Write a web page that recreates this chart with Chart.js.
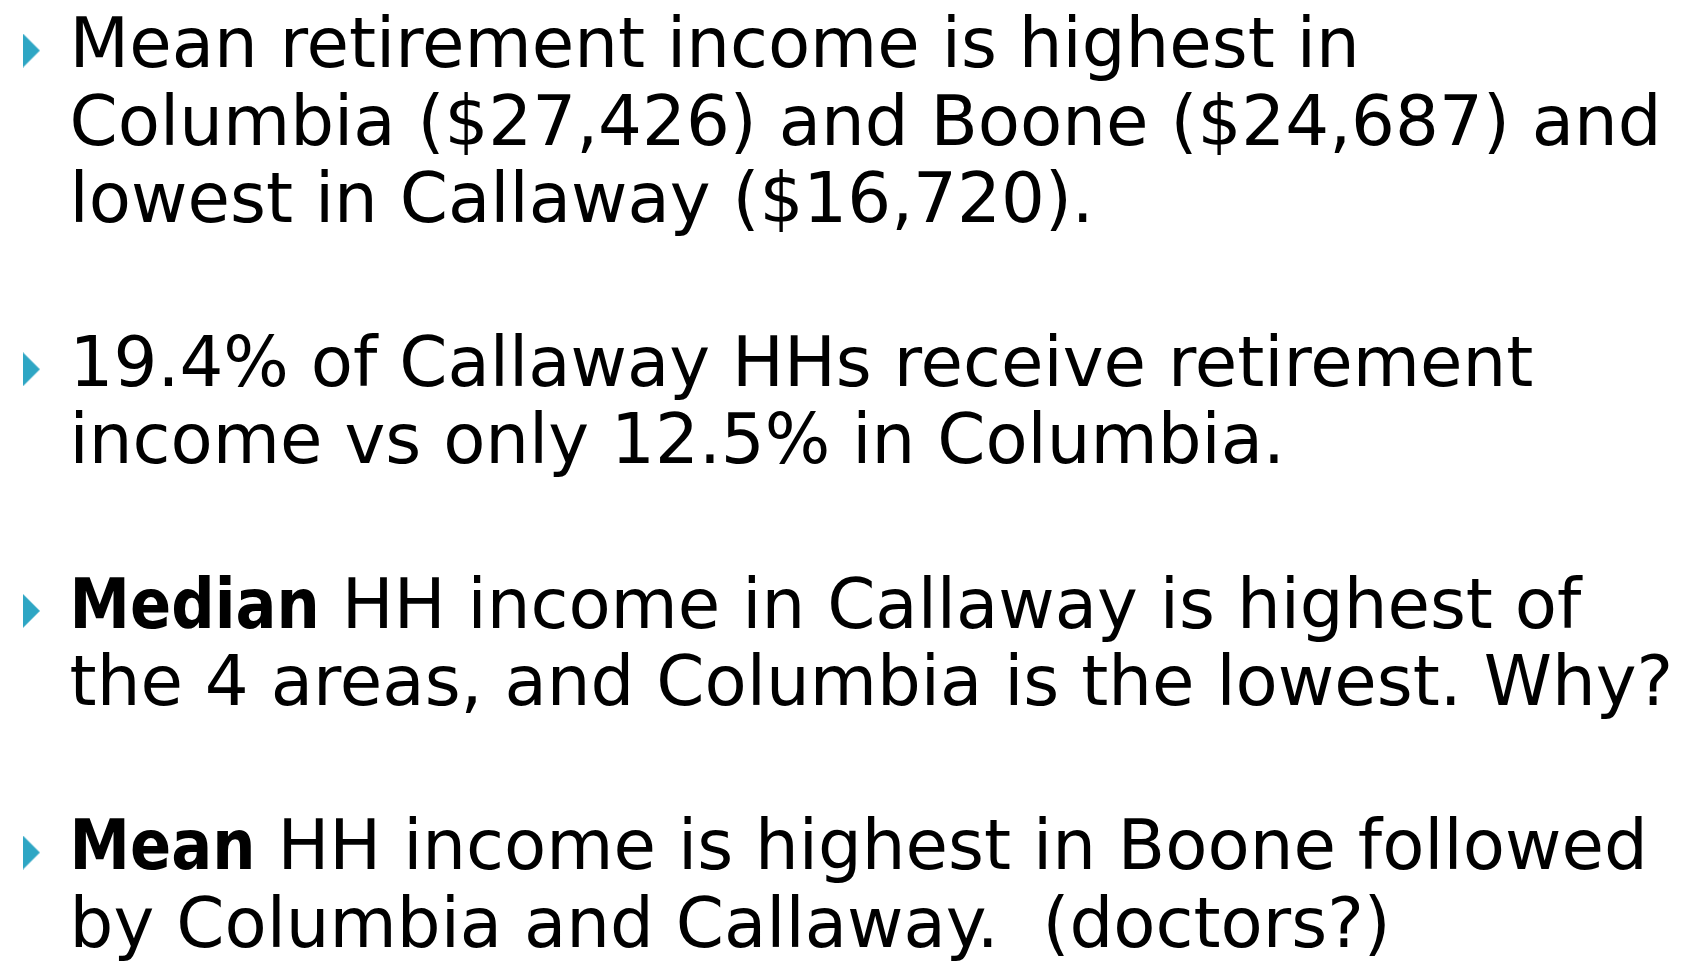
<!DOCTYPE html>
<html>
<head>
<meta charset="utf-8">
<script src="https://cdn.jsdelivr.net/npm/chart.js@4.4.0/dist/chart.umd.min.js"></script>
<style>
  html, body { margin: 0; padding: 0; background: #fff; overflow: hidden; }
  #wrap { width: 1686px; height: 962px; position: relative; }
</style>
</head>
<body>
<div id="wrap"><canvas id="slide"></canvas></div>
<script>
  // one array per bullet, one entry per line, each line = [text, bold] parts
  var bullet1 = [
    [['Mean retirement income is highest in', false]],
    [['Columbia ($27,426) and Boone ($24,687) and', false]],
    [['lowest in Callaway ($16,720).', false]]
  ];
  var bullet2 = [
    [['19.4% of Callaway HHs receive retirement', false]],
    [['income vs only 12.5% in Columbia.', false]]
  ];
  var bullet3 = [
    [['Median', true], [' HH income in Callaway is highest of', false]],
    [['the 4 areas, and Columbia is the lowest. Why?', false]]
  ];
  var bullet4 = [
    [['Mean', true], [' HH income is highest in Boone followed', false]],
    [['by Columbia and Callaway.  (doctors?)', false]]
  ];
  var bullets = [bullet1, bullet2, bullet3, bullet4];

  // layout
  var FONT_SIZE = 69;
  var FONT_FAMILY = '"DejaVu Sans", sans-serif';
  var PARA_GAP = 1.13;       // extra space between bullets, in lines
  var LINE_PX = 78;
  var FIRST_BASELINE = 63;
  var TEXT_X = 65;
  var BULLET_X = 26.5;
  var BULLET_LIFT = 0.218;   // bullet centre above baseline, in lines
  var BOLD_SQUEEZE = 0.88;   // bold face runs wider than the slide's demibold

  // first row (in line units) of every bullet
  var firstRow = [];
  var row = 0;
  bullets.forEach(function(lines, i) {
    firstRow.push(row + PARA_GAP * i);
    row += lines.length;
  });

  // squeeze text to the slide's face width
  var mctx = document.createElement('canvas').getContext('2d');
  mctx.font = FONT_SIZE + 'px ' + FONT_FAMILY;
  var SX = 1592 / mctx.measureText(bullet1[1][0][0]).width;

  // teal bullet marker
  var marker = document.createElement('canvas');
  marker.width = 17;
  marker.height = 34;
  var m = marker.getContext('2d');
  m.fillStyle = '#2ea6c4';
  m.beginPath();
  m.moveTo(0, 0);
  m.lineTo(17, 17);
  m.lineTo(0, 34);
  m.closePath();
  m.fill();

  var textPlugin = {
    id: 'bulletText',
    afterDatasetsDraw: function(chart) {
      var ctx = chart.ctx;
      var xs = chart.scales.x;
      var ys = chart.scales.y;
      ctx.save();
      ctx.fillStyle = '#000';
      ctx.textBaseline = 'alphabetic';
      ctx.textAlign = 'left';
      bullets.forEach(function(lines, i) {
        lines.forEach(function(parts, j) {
          var y = ys.getPixelForValue(firstRow[i] + j);
          var x = xs.getPixelForValue(TEXT_X);
          parts.forEach(function(p) {
            var sx = SX * (p[1] ? BOLD_SQUEEZE : 1);
            ctx.font = (p[1] ? 'bold ' : '') + FONT_SIZE + 'px ' + FONT_FAMILY;
            ctx.save();
            ctx.translate(x, y);
            ctx.scale(sx, 1);
            ctx.fillText(p[0], 0, 0);
            ctx.restore();
            x += ctx.measureText(p[0]).width * sx;
          });
        });
      });
      ctx.restore();
    }
  };

  var ctx = document.getElementById('slide').getContext('2d');
  var slide = new Chart(ctx, {
    type: 'scatter',
    data: {
      datasets: [{
        data: firstRow.map(function(r) { return { x: BULLET_X, y: r - BULLET_LIFT }; }),
        pointStyle: marker,
        clip: false
      }]
    },
    options: {
      animation: false,
      responsive: true,
      maintainAspectRatio: false,
      events: [],
      layout: { padding: 0 },
      plugins: {
        legend: { display: false },
        tooltip: { enabled: false }
      },
      scales: {
        x: { type: 'linear', display: false, min: 0, max: 1686 },
        y: {
          type: 'linear',
          display: false,
          reverse: true,
          min: -FIRST_BASELINE / LINE_PX,
          max: (962 - FIRST_BASELINE) / LINE_PX
        }
      }
    },
    plugins: [textPlugin]
  });
</script>
</body>
</html>
